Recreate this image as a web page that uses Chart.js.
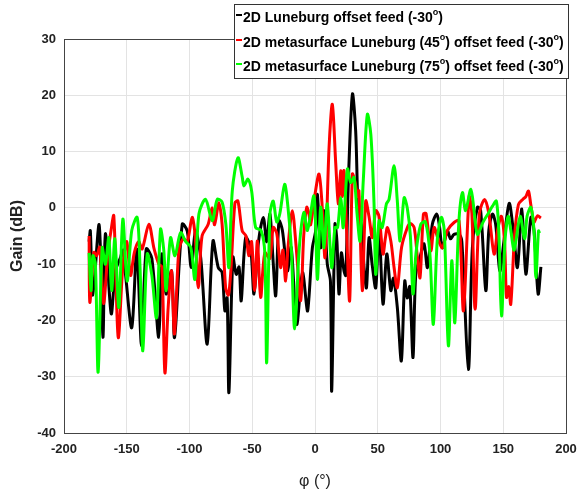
<!DOCTYPE html>
<html>
<head>
<meta charset="utf-8">
<script src="https://cdn.jsdelivr.net/npm/chart.js"></script>
<style>
  body { margin: 0; background: #fff; }
</style>
</head>
<body>
<canvas id="chart" width="579" height="493"></canvas>
<script>
// series as [phi (deg), gain (dB)]
var blackPoints = [[-180,-6],[-179,-4.1],[-177,-15.5],[-172,-3],[-169,-23],[-167,-4.6],[-162.4,-18.8],[-159,-11.2],[-155,-8.8],[-153,-7.5],[-151,-11.8],[-146,-21.3],[-142,-7.3],[-138.2,-24.5],[-134.5,-7.3],[-130,-9],[-124.5,-23],[-122,-8.2],[-118.6,-15.3],[-114.3,-11.2],[-111.9,-23],[-105.8,-2.9],[-101.8,-4.1],[-98.6,-10.6],[-95.2,-4.1],[-91,-9],[-85.9,-24.2],[-81.3,-5.9],[-77.1,-10.6],[-74,-11.5],[-71.8,-18.3],[-70,-16],[-68.6,-32.8],[-65.4,-8.8],[-62.8,-11.8],[-60.5,-10.5],[-58.8,-16.5],[-55.3,-5.3],[-51.3,-7.1],[-48.6,-15.3],[-45,-6],[-41.2,-1.7],[-38.5,-6],[-35.9,-1.1],[-33.5,-9],[-31.3,-15.6],[-28.7,-2.3],[-26,-4],[-22,-11.2],[-19,-7],[-14.6,-20.7],[-10,-11.5],[-6.1,-18.3],[-4.8,-15.9],[-2.1,-7.1],[0.5,-4.1],[1.9,2.4],[4.5,-7.1],[7.2,-0.5],[9.8,-10],[12.3,-13],[13.3,-32.5],[15.9,-2.9],[17.5,-6],[19.1,-15.3],[21,-8],[23.1,-11.2],[24.5,-12],[26.6,4.8],[29.8,20.2],[32.4,13.7],[34.6,-1.1],[37,-3],[39.1,-10.6],[41,-14.2],[43.1,-5.3],[45.5,-10],[48.4,-14.2],[51,-3.5],[54.2,-17.1],[57.2,-8.2],[60.4,-14.7],[62.5,-12.5],[65.6,-17.7],[68.8,-27.2],[71.5,-13],[73.5,-16],[75.5,-14],[78.1,-26.6],[80.3,-11.8],[84,-8.5],[86.9,-6.4],[89.6,-10.6],[93.5,-2.9],[97,-1.1],[99,-3],[101.5,-7.1],[105.5,-4.1],[108,-5.5],[110.8,-4.7],[114.8,-4.7],[117,-6],[122.2,-28.7],[125.4,-7.1],[129.4,0.1],[132,-0.5],[136.1,-14.7],[138.5,-4],[141.4,-1.1],[144,-3],[147.3,-11.2],[150.5,-6],[154.7,0.8],[158,-4],[161.3,-10.6],[164.8,-0.2],[168,-11.8],[172,-1.7],[174.5,-4],[177.8,-15.3],[180,-10.5]];

var redPoints = [[-180,-5],[-179.4,-16.8],[-176.2,-7.9],[-174,-8.5],[-171.5,-7],[-168.5,-17],[-165,-8],[-162.5,-4],[-160.3,-1.4],[-156.8,-23],[-153,-10],[-150,-6],[-147,-12],[-144,-8],[-140.5,-6],[-137.7,-7.3],[-132.4,-2.9],[-128.4,-7.1],[-126,-9],[-124.4,-10],[-122,-10.5],[-119.6,-29.3],[-117,-17.7],[-114.3,-11.2],[-112,-22.4],[-108.5,-7.6],[-105,-5.5],[-101.8,-6],[-97.9,-1.7],[-95.5,-5],[-93,-14.2],[-90,-5],[-85.1,-2.9],[-82,0],[-80,-3],[-76.6,0.9],[-74,-3],[-71.2,-14.2],[-69,-15.5],[-67,-11],[-63.8,0.9],[-61.4,1.2],[-58,-4.1],[-55,-5],[-52.7,-8.5],[-50.5,-6],[-48.1,-14.7],[-45.9,-5.9],[-43.3,-15.9],[-40,-8],[-36,-9],[-33.3,-3.5],[-30.5,-4.5],[-27.4,-10.6],[-25.5,-7.5],[-23.4,-13],[-21.5,-7],[-18.1,-0.5],[-15,-7],[-11.4,-16.5],[-9,-5],[-6.6,0.1],[-4.8,-1.1],[-3.5,-3],[0,2.4],[3.2,6],[5.5,1],[8,-8.8],[11.2,10.7],[13.8,18.4],[16.5,8],[18.6,0.7],[20.5,6.6],[21.8,2],[23.1,6.6],[25,-2.9],[27.6,-16.5],[29.8,6],[32,4.5],[34,2],[35,3],[37.7,-14.7],[40.4,1.2],[43,-1.5],[45.7,-5.3],[48.4,-0.5],[51,-1.5],[54.2,-8.2],[56,-5.5],[57.7,-3.5],[60.5,-6],[63,-10.6],[65.6,-14.2],[69,-7],[73.6,-3.5],[76,-2.8],[79,-3.5],[81.6,-8.8],[83.7,-12.4],[86.4,-1.1],[88.5,-1],[92.3,-7.6],[94.9,-3.5],[98,-5.5],[101.5,-7.1],[105.5,-4],[110.8,-2.6],[114.8,-2.3],[118.3,-18.3],[122.8,2],[125,-1],[127.6,-18],[131,-1],[135.2,1.5],[138.5,-1],[142.7,-8.2],[145.5,-4],[148.5,-1.5],[151,-6],[152.6,-15.9],[154.3,-14],[156,-17.1],[159,-5],[162.1,0.6],[165.5,1.5],[168,2],[170.1,3],[172,0.5],[174.5,-2.5],[177.3,-1.4],[180,-1.8]];

var greenPoints = [[-180,-8],[-178.5,-14.7],[-177,-8.5],[-175,-10],[-172.8,-29.2],[-169.6,-7.1],[-167,-10],[-164.3,-5.3],[-162,-14.7],[-159.5,-5.5],[-156.3,-17.7],[-153.1,-2],[-149.7,-13],[-146,-4],[-141.7,-1.7],[-139.5,-10],[-137.2,-25.4],[-133.7,-8.2],[-130,-12],[-126.3,-19.5],[-123.1,-3.8],[-120.5,-7.5],[-118.6,-14.7],[-115.1,-5.3],[-111.6,-8.5],[-107.1,-4.4],[-103,-6],[-99,-7],[-95.7,-12.7],[-92.5,-1.1],[-87.2,1.5],[-81.9,-2.3],[-77.9,1.5],[-74,1],[-71,-3],[-68.6,-10.6],[-65.9,3],[-61.4,8.9],[-58,5.5],[-56.6,3.9],[-53.4,5.1],[-50.5,3],[-47.3,-3.5],[-43,-4],[-40,-8],[-38.5,-27.5],[-35.9,-1.1],[-33.3,1.2],[-30.5,-2.5],[-28,-1],[-24.2,4.2],[-21.5,0],[-18.9,-7.1],[-16.2,-21.5],[-12.5,-7],[-8.8,-0.8],[-6,-4],[-0.8,2.1],[1.9,-12.7],[4.5,0.1],[7.2,-7.1],[9.8,0.7],[13.3,-10.6],[15.9,-3.5],[18,-3.5],[20.5,1.8],[22.5,-3.5],[25.8,6.9],[28.5,4.5],[31.1,5.4],[33.5,-1],[35.9,-5.9],[38.5,5],[41.7,16.6],[44.5,13],[47,1],[48.4,-11.8],[51,-2.3],[53.5,-3.5],[56.9,0.7],[59,1.5],[63,7.5],[65.5,1.5],[67.8,-5.9],[71,1.8],[73.5,0],[76,-5],[78.1,-15.3],[80.5,-8],[84.3,-2.9],[88,-2.5],[91.5,-8],[94.3,-20.7],[97.5,-5.5],[100.7,-1.7],[103,-4],[106.3,-24.5],[109,-9.4],[111.4,-20.4],[114.5,-3],[117.5,2.7],[120,-0.5],[124.2,3.3],[127,-1],[129.4,-4.7],[134,-2.5],[138,-1],[141.4,0.3],[144.5,1.2],[146.5,-4.5],[148.6,-19.2],[151.5,-5.5],[154,-1.5],[156,-4],[158.5,-7.5],[160,-6],[163.5,-1.5],[167,-5.5],[169,-1.5],[172,0.1],[174.5,-4],[176,-12.4],[178.1,-4.1],[179,-4.5]];

var seriesLabels = [
  '2D Luneburg offset feed (-30°)',
  '2D metasurface Luneburg (45°) offset feed (-30°)',
  '2D metasurface Luneburg (75°) offset feed (-30°)'
];
var seriesColors = ['#000000', '#ff0000', '#00ff00'];

function toXY(arr) {
  return arr.map(function (p) { return { x: p[0], y: p[1] }; });
}

var FONT = 'Liberation Sans, Arial, sans-serif';

// box round the plot area (top and right edges too)
var axesBox = {
  id: 'axesBox',
  afterDatasetsDraw: function (chart) {
    var a = chart.chartArea, ctx = chart.ctx;
    ctx.save();
    ctx.strokeStyle = '#444';
    ctx.lineWidth = 1;
    ctx.strokeRect(Math.round(a.left) + 0.5, Math.round(a.top) + 0.5, Math.round(a.right - a.left), Math.round(a.bottom - a.top));
    ctx.restore();
  }
};

// legend box drawn by hand, like matlab's boxed legend
var boxLegend = {
  id: 'boxLegend',
  afterDraw: function (chart) {
    var ctx = chart.ctx;
    var left = 234, top = 4, right = 568, bottom = 78;
    ctx.save();
    ctx.fillStyle = '#fff';
    ctx.fillRect(left, top, right - left, bottom - top);
    ctx.strokeStyle = '#333';
    ctx.lineWidth = 1;
    ctx.strokeRect(left + 0.5, top + 0.5, right - left, bottom - top);
    var rows = [18, 43, 67];
    chart.data.datasets.forEach(function (ds, i) {
      var y = rows[i];
      ctx.strokeStyle = ds.borderColor;
      ctx.lineWidth = 2;
      ctx.beginPath();
      ctx.moveTo(236, y - 3);
      ctx.lineTo(242, y - 3);
      ctx.stroke();
      // text with superscript o for degrees
      ctx.fillStyle = '#000';
      ctx.textBaseline = 'middle';
      var x = 243;
      var parts = ds.label.split('°');
      parts.forEach(function (part, j) {
        ctx.font = 'bold 14px ' + FONT;
        ctx.fillText(part, x, y);
        x += ctx.measureText(part).width;
        if (j < parts.length - 1) {
          ctx.font = 'bold 9px ' + FONT;
          ctx.fillText('o', x, y - 5);
          x += ctx.measureText('o').width;
        }
      });
    });
    ctx.restore();
  }
};

var ctx = document.getElementById('chart').getContext('2d');
var chart = new Chart(ctx, {
  type: 'line',
  data: {
    datasets: [
      { label: seriesLabels[0], data: toXY(blackPoints), borderColor: seriesColors[0], order: 2 },
      { label: seriesLabels[1], data: toXY(redPoints), borderColor: seriesColors[1], order: 1 },
      { label: seriesLabels[2], data: toXY(greenPoints), borderColor: seriesColors[2], order: 0 }
    ]
  },
  options: {
    responsive: false,
    animation: false,
    layout: { padding: { left: 8, right: 13, top: 39, bottom: 0 } },
    elements: {
      line: { borderWidth: 3, tension: 0.3, fill: false },
      point: { radius: 0 }
    },
    plugins: {
      legend: { display: false },
      tooltip: { enabled: false }
    },
    scales: {
      x: {
        type: 'linear',
        min: -200,
        max: 200,
        afterFit: function (scale) {
          scale.height = 60;
          scale.paddingLeft = 0;
          scale.paddingRight = 0;
        },
        ticks: { stepSize: 50, padding: 9, color: '#222', font: { family: FONT, size: 13, weight: 'bold' }, maxRotation: 0 },
        grid: { color: '#e3e3e3', drawTicks: false },
        border: { color: '#444', width: 1 },
        title: { display: true, text: 'φ (°)', color: '#222', font: { family: FONT, size: 16 }, padding: { top: 0, bottom: 2 } }
      },
      y: {
        min: -40,
        max: 30,
        afterFit: function (scale) { scale.width = 56; },
        ticks: { stepSize: 10, padding: 8, color: '#222', font: { family: FONT, size: 13, weight: 'bold' } },
        grid: { color: '#e3e3e3', drawTicks: false },
        border: { color: '#444', width: 1 },
        title: { display: true, text: 'Gain (dB)', color: '#222', font: { family: FONT, size: 16, weight: 'bold' }, padding: { top: 0, bottom: 2 } }
      }
    }
  },
  plugins: [axesBox, boxLegend]
});
</script>
</body>
</html>
